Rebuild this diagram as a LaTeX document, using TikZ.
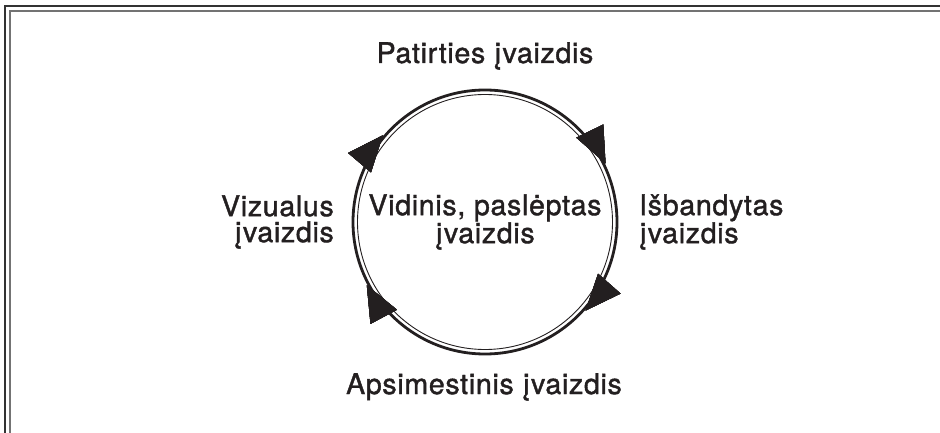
\documentclass[tikz,border=0pt]{standalone}
\usepackage{fontspec}
\setmainfont[FakeBold=1.4,LetterSpace=2.5]{TeX Gyre Heros}
\usetikzlibrary{arrows.meta,decorations.markings}
\definecolor{ink}{HTML}{231F20}
\tikzset{
  imgtext/.style={font=\fontsize{28.5}{26}\selectfont,text=ink,inner sep=0pt},
  headmark/.style={postaction={decorate},decoration={markings,
    mark=at position #1 with {\arrow{Triangle[length=36pt,width=30pt]}}}}
}
\begin{document}
\begin{tikzpicture}[x=1pt,y=1pt]
\useasboundingbox (0,0) rectangle (940,432);
\clip (0,0) rectangle (940,432);
\draw[line width=1.5pt,black!80] (5,-20) -- (5,426) -- (960,426);
\draw[line width=1.5pt,black!55] (10,-20) -- (10,421) -- (960,421);
\node[circle,draw=ink,line width=2.8pt,minimum size=264pt,inner sep=0pt] (ring) at (485,210) {};
\draw[ink,line width=0.9pt] (ring.center) circle[radius=127.5];
\path[ink,headmark=0.178,headmark=0.365,headmark=0.672,headmark=0.862]
  (ring.center) ++(90:134) arc[start angle=90,end angle=-270,radius=134];
\node[imgtext,align=center] (vidinis) at (ring.center) {Vidinis, paslėptas\\įvaizdis};
\node[imgtext,anchor=base] (patirtis) at (485,369) {Patirties įvaizdis};
\node[imgtext,anchor=base] (apsimestinis) at (484,38) {Apsimestinis įvaizdis};
\node[imgtext,align=right,anchor=east] (vizualus) at (334,210) {Vizualus\\įvaizdis};
\node[imgtext,align=left,anchor=west] (isbandytas) at (639,210) {Išbandytas\\įvaizdis};
\end{tikzpicture}
\end{document}
